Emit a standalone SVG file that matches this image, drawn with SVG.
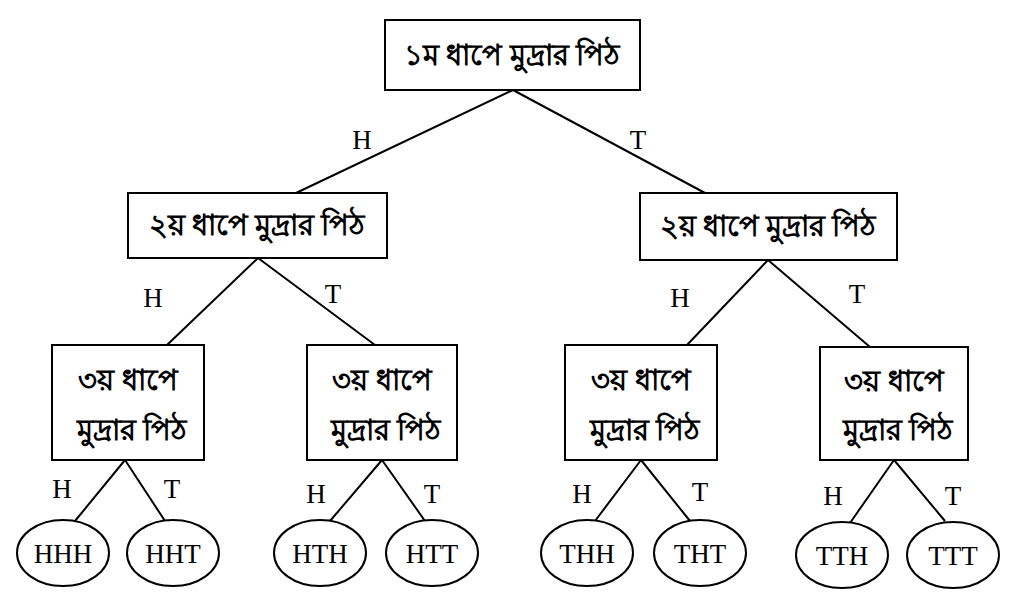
<svg xmlns="http://www.w3.org/2000/svg" width="1024" height="614" viewBox="0 0 1024 614">
<style>
.b{fill:#fff;stroke:#000;stroke-width:2}
.t{font-family:"Liberation Serif","Noto Sans",serif;font-size:27px;text-anchor:middle;fill:#000}
.bn{font-size:29px;font-weight:bold}
.l{stroke:#000;stroke-width:2;fill:none}
</style>
<rect width="1024" height="614" fill="#fff"/>
<g id="connectors">
<path class="l" d="M513 90L296 193M513 90L705 193M258 258L167 345M258 258L375 345M768 260L687 345M768 260L870 347M125 460L75 521M125 460L165 521M382 460L330 521M382 460L425 521M641 460L595 521M641 460L690 521M894 460L850 523M894 460L945 521"/>
<g class="t"><text x="362" y="149">H</text><text x="638" y="149">T</text><text x="153" y="307">H</text><text x="333" y="303">T</text><text x="680" y="307">H</text><text x="857" y="303">T</text><text x="62" y="498">H</text><text x="172" y="498">T</text><text x="316" y="503">H</text><text x="432" y="503">T</text><text x="582" y="503">H</text><text x="700" y="501">T</text><text x="833" y="505">H</text><text x="953" y="505">T</text></g>
</g>
<g id="n1"><rect class="b" x="385" y="20" width="255" height="70"/><text class="t bn" x="512" y="65">১ম ধাপে মুদ্রার পিঠ</text></g>
<g id="n2a"><rect class="b" x="128" y="193" width="259" height="65"/><text class="t bn" x="257" y="235">২য় ধাপে মুদ্রার পিঠ</text></g>
<g id="n2b"><rect class="b" x="640" y="193" width="257" height="67"/><text class="t bn" x="768" y="236">২য় ধাপে মুদ্রার পিঠ</text></g>
<g id="n3a"><rect class="b" x="52" y="345" width="152" height="115"/><text class="t bn" x="128" y="390">৩য় ধাপে</text><text class="t bn" x="132" y="440">মুদ্রার পিঠ</text></g>
<g id="n3b"><rect class="b" x="307" y="345" width="150" height="115"/><text class="t bn" x="382" y="390">৩য় ধাপে</text><text class="t bn" x="386" y="440">মুদ্রার পিঠ</text></g>
<g id="n3c"><rect class="b" x="565" y="345" width="152" height="115"/><text class="t bn" x="641" y="390">৩য় ধাপে</text><text class="t bn" x="645" y="440">মুদ্রার পিঠ</text></g>
<g id="n3d"><rect class="b" x="820" y="347" width="148" height="113"/><text class="t bn" x="894" y="391">৩য় ধাপে</text><text class="t bn" x="898" y="440">মুদ্রার পিঠ</text></g>
<g id="HHH"><ellipse class="b" cx="63" cy="553" rx="46" ry="33"/><text class="t" x="63" y="563">HHH</text></g>
<g id="HHT"><ellipse class="b" cx="173" cy="553" rx="46" ry="33"/><text class="t" x="173" y="563">HHT</text></g>
<g id="HTH"><ellipse class="b" cx="320" cy="553" rx="46" ry="33"/><text class="t" x="320" y="563">HTH</text></g>
<g id="HTT"><ellipse class="b" cx="432" cy="553" rx="46" ry="33"/><text class="t" x="432" y="563">HTT</text></g>
<g id="THH"><ellipse class="b" cx="587" cy="553" rx="46" ry="33"/><text class="t" x="587" y="563">THH</text></g>
<g id="THT"><ellipse class="b" cx="700" cy="553" rx="46" ry="33"/><text class="t" x="700" y="563">THT</text></g>
<g id="TTH"><ellipse class="b" cx="842" cy="555" rx="46" ry="33"/><text class="t" x="842" y="565">TTH</text></g>
<g id="TTT"><ellipse class="b" cx="953" cy="555" rx="46" ry="33"/><text class="t" x="953" y="565">TTT</text></g>
</svg>
